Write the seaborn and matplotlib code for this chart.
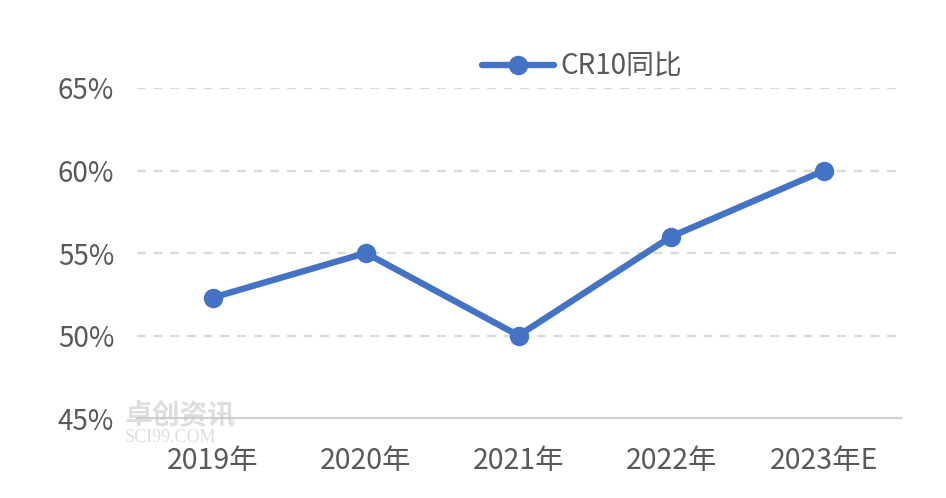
import numpy as np
import pandas as pd
import matplotlib
matplotlib.use("Agg")
import matplotlib.pyplot as plt
import seaborn as sns

sns.set_style("white")
plt.rcParams['font.family'] = ['Noto Sans CJK SC', 'DejaVu Sans']

years = ["2019年", "2020年", "2021年", "2022年", "2023年E"]
cr10 = [52.3, 55.0, 50.0, 56.0, 60.0]
yticks = [45, 50, 55, 60, 65]
ytick_labels = ["45%", "50%", "55%", "60%", "65%"]

df = pd.DataFrame({"year": years, "cr10": cr10})

blue = "#4472C4"
txt = "#595959"
_fontsize = 20

fig = plt.figure(figsize=(9.46, 4.98), dpi=100)
ax = fig.add_axes([0.1443, 0.1606, 0.8077, 0.6627])

ax.set_xlim(-0.5, len(years) - 0.5)
ax.set_ylim(45, 65)
for v in yticks[1:]:
    ax.axhline(v, color="#d9d9d9", lw=1.6, ls=(0, (4, 3.5)), zorder=0)

sns.lineplot(data=df, x="year", y="cr10", ax=ax, color=blue, lw=4.6,
             marker="o", markersize=14, markeredgewidth=0, label="CR10同比",
             sort=False)

for s in ["top", "right", "left"]:
    ax.spines[s].set_visible(False)
ax.spines["bottom"].set_color("#d0d0d0")
ax.spines["bottom"].set_linewidth(1.5)

ax.set_yticks(yticks)
ax.set_yticklabels(ytick_labels)
ax.tick_params(axis="both", length=0, labelsize=_fontsize, labelcolor=txt)
ax.tick_params(axis="x", labelsize=20.5, pad=20)
ax.tick_params(axis="y", pad=16)
ax.set_xlabel("")
ax.set_ylabel("")

leg = ax.legend(loc="center", bbox_to_anchor=(0.583, 1.064), frameon=False,
                fontsize=_fontsize, handlelength=2.6, handletextpad=0.2,
                borderpad=0)
for t in leg.get_texts():
    t.set_color(txt)

# faint watermark
fig.text(0.132, 0.148, "卓创资讯", fontsize=20, color="#c8c8c8", alpha=0.6,
         fontweight="bold")
fig.text(0.132, 0.112, "SCI99.COM", fontsize=13, color="#c8c8c8", alpha=0.6,
         family="Liberation Serif")

plt.savefig("out.png", dpi=100)
